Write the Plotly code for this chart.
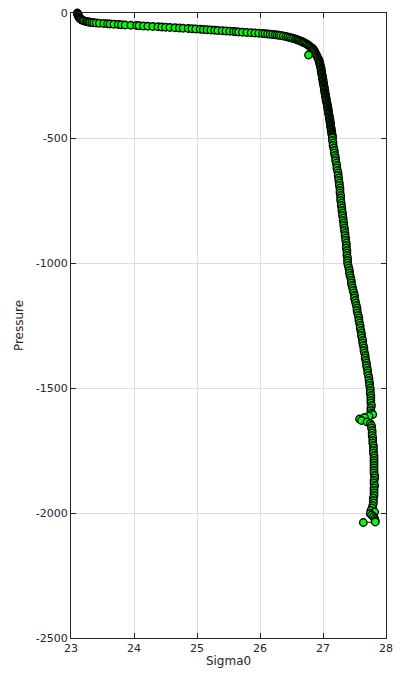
import plotly.graph_objects as go

# ---- data (pressure in dbar, negative downward) ----
surface_p = [0, -2, -4, -6, -8, -10, -12, -14, -16, -18, -20, -22, -24, -26, -28, -30, -32]
surface_s = [23.10, 23.10, 23.11, 23.11, 23.11, 23.12, 23.12, 23.12, 23.13, 23.13, 23.14, 23.14,
             23.15, 23.16, 23.17, 23.19, 23.21]

mixed_p = [-34, -35, -36, -37, -38, -39, -40, -41, -42, -43, -44, -45, -46, -47, -48, -49, -50,
           -51, -52, -53, -54, -55, -56, -57, -58, -59, -60, -61, -62, -63, -64, -65, -66, -67,
           -68, -69, -70, -71, -72, -73, -74, -75, -76, -77, -78, -79, -80, -81, -82, -83, -84,
           -85, -86, -87, -88, -89, -90]
mixed_s = [23.24, 23.26, 23.28, 23.30, 23.33, 23.36, 23.40, 23.45, 23.52, 23.58, 23.62, 23.68,
           23.75, 23.80, 23.86, 23.95, 24.04, 24.08, 24.15, 24.22, 24.30, 24.38, 24.44, 24.50,
           24.57, 24.65, 24.72, 24.78, 24.86, 24.92, 24.98, 25.05, 25.10, 25.16, 25.22, 25.28,
           25.33, 25.40, 25.46, 25.52, 25.58, 25.62, 25.66, 25.72, 25.79, 25.86, 25.92, 25.98,
           26.04, 26.08, 26.12, 26.16, 26.20, 26.24, 26.27, 26.30, 26.33]

knee_p = [-92, -94, -96, -98, -100, -102, -104, -106, -108, -110, -112, -114, -116, -118, -120,
          -123, -126, -129, -132, -135, -138, -141, -144, -147, -150, -155, -160, -165, -168,
          -170, -175, -180, -185, -190, -195]
knee_s = [26.37, 26.41, 26.44, 26.47, 26.50, 26.53, 26.56, 26.58, 26.60, 26.62, 26.64, 26.66,
          26.68, 26.69, 26.71, 26.73, 26.75, 26.77, 26.78, 26.80, 26.81, 26.83, 26.84, 26.85,
          26.86, 26.87, 26.88, 26.89, 26.77, 26.90, 26.91, 26.92, 26.93, 26.94, 26.94]

thermo_p = [-200, -205, -210, -215, -220, -225, -230, -235, -240, -245, -250, -255, -260, -265,
            -270, -275, -280, -285, -290, -295, -300, -305, -310, -315, -320, -325, -330, -335,
            -340, -345, -350, -355, -360, -365, -370, -375, -380, -385, -390, -395, -400, -405,
            -410, -415, -420, -425, -430, -435, -440, -445, -450, -455, -460, -465, -470, -475,
            -480, -485, -490, -495, -500]
thermo_s = [26.95, 26.95, 26.96, 26.96, 26.97, 26.97, 26.97, 26.98, 26.98, 26.98, 26.99, 26.99,
            26.99, 27.00, 27.00, 27.00, 27.01, 27.01, 27.01, 27.02, 27.02, 27.02, 27.03, 27.03,
            27.03, 27.04, 27.04, 27.04, 27.05, 27.05, 27.05, 27.06, 27.06, 27.07, 27.07, 27.07,
            27.08, 27.08, 27.08, 27.09, 27.09, 27.09, 27.10, 27.10, 27.10, 27.11, 27.11, 27.11,
            27.12, 27.12, 27.12, 27.12, 27.13, 27.13, 27.13, 27.14, 27.14, 27.14, 27.15, 27.15,
            27.15]

deep_p = [-510, -520, -530, -540, -550, -560, -570, -580, -590, -600, -610, -620, -630, -640,
          -650, -660, -670, -680, -690, -700, -710, -720, -730, -740, -750, -760, -770, -780,
          -790, -800, -810, -820, -830, -840, -850, -860, -870, -880, -890, -900, -910, -920,
          -930, -940, -950, -960, -970, -980, -990, -1000, -1010, -1020, -1030, -1040, -1050,
          -1060, -1070, -1080, -1090, -1100, -1110, -1120, -1130, -1140, -1150, -1160, -1170,
          -1180, -1190, -1200, -1210, -1220, -1230, -1240, -1250, -1260, -1270, -1280, -1290,
          -1300, -1310, -1320, -1330, -1340, -1350, -1360, -1370, -1380, -1390, -1400, -1410,
          -1420, -1430, -1440, -1450, -1460, -1470, -1480, -1490, -1500, -1510, -1520, -1530,
          -1540, -1550, -1560, -1570, -1580, -1590, -1600]
deep_s = [27.15, 27.16, 27.16, 27.17, 27.18, 27.18, 27.19, 27.20, 27.20, 27.21, 27.22, 27.22,
          27.23, 27.24, 27.24, 27.25, 27.25, 27.26, 27.26, 27.27, 27.27, 27.27, 27.28, 27.28,
          27.28, 27.29, 27.29, 27.30, 27.30, 27.31, 27.31, 27.32, 27.32, 27.33, 27.33, 27.34,
          27.34, 27.35, 27.35, 27.36, 27.36, 27.37, 27.37, 27.37, 27.38, 27.38, 27.38, 27.39,
          27.39, 27.39, 27.40, 27.41, 27.42, 27.42, 27.43, 27.44, 27.45, 27.45, 27.46, 27.47,
          27.48, 27.49, 27.50, 27.50, 27.51, 27.52, 27.53, 27.54, 27.54, 27.55, 27.56, 27.57,
          27.57, 27.58, 27.59, 27.59, 27.60, 27.61, 27.61, 27.62, 27.63, 27.63, 27.64, 27.65,
          27.65, 27.66, 27.67, 27.67, 27.68, 27.69, 27.69, 27.70, 27.71, 27.71, 27.72, 27.73,
          27.73, 27.74, 27.74, 27.75, 27.75, 27.75, 27.76, 27.76, 27.76, 27.76, 27.77, 27.76,
          27.76, 27.77]

bottom_p = [-1606, -1612, -1618, -1624, -1630, -1636, -1642, -1650, -1660, -1670, -1680, -1690,
            -1700, -1710, -1720, -1730, -1740, -1750, -1760, -1770, -1780, -1790, -1800, -1810,
            -1820, -1830, -1840, -1850, -1860, -1870, -1880, -1890, -1900, -1910, -1920, -1930,
            -1940, -1950, -1960, -1970, -1980, -1990, -1996, -2002, -2008, -2014, -2022, -2030,
            -2036, -2038]
bottom_s = [27.79, 27.73, 27.66, 27.58, 27.61, 27.70, 27.75, 27.77, 27.77, 27.78, 27.78, 27.78,
            27.79, 27.79, 27.79, 27.80, 27.80, 27.80, 27.80, 27.81, 27.81, 27.81, 27.81, 27.81,
            27.81, 27.81, 27.81, 27.82, 27.82, 27.81, 27.81, 27.82, 27.81, 27.81, 27.81, 27.81,
            27.80, 27.80, 27.80, 27.79, 27.78, 27.76, 27.82, 27.75, 27.77, 27.80, 27.82, 27.83,
            27.83, 27.64]

x_ticks = [23, 24, 25, 26, 27, 28]
x_ticktext = ["23", "24", "25", "26", "27", "28"]
y_ticks = [0, -500, -1000, -1500, -2000, -2500]
y_ticktext = ["0", "-500", "-1000", "-1500", "-2000", "-2500"]

pressure = surface_p + mixed_p + knee_p + thermo_p + deep_p + bottom_p
sigma0 = surface_s + mixed_s + knee_s + thermo_s + deep_s + bottom_s

AX = "#262626"
GRID = "#dedede"
FONT = "DejaVu Sans"

fig = go.Figure()
fig.add_trace(go.Scatter(
    x=sigma0, y=pressure, mode="lines+markers",
    line=dict(color="black", width=1),
    marker=dict(symbol="circle", size=7.5, color="#00ff00",
                line=dict(color="black", width=1.3)),
    cliponaxis=False, showlegend=False,
))

axis_common = dict(
    showline=True, linecolor=AX, linewidth=1, mirror="ticks",
    ticks="inside", ticklen=5, tickwidth=1, tickcolor=AX,
    showgrid=True, gridcolor=GRID, gridwidth=1, zeroline=False,
    tickfont=dict(family=FONT, size=11, color=AX),
)

fig.update_xaxes(range=[23, 28], tickmode="array", tickvals=x_ticks, ticktext=x_ticktext,
                 title=dict(text="Sigma0", font=dict(family=FONT, size=12, color=AX), standoff=2),
                 **axis_common)
fig.update_yaxes(range=[-2500, 0], tickmode="array", tickvals=y_ticks, ticktext=y_ticktext,
                 title=dict(text="Pressure", font=dict(family=FONT, size=12, color=AX), standoff=9),
                 **axis_common)

fig.update_layout(
    width=402, height=674,
    margin=dict(l=71, r=16, t=13, b=36, autoexpand=False),
    paper_bgcolor="white", plot_bgcolor="white",
    font=dict(family=FONT, color=AX),
)

fig.write_html("out.html", config={"displayModeBar": False},
               post_script="document.body.style.margin='0';document.body.style.overflow='hidden';")
